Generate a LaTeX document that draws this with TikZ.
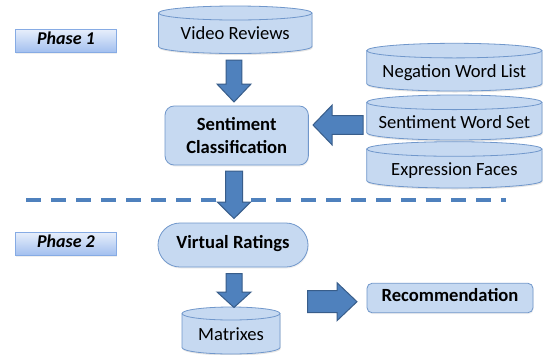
\documentclass[tikz,border=0pt]{standalone}
\usepackage{fontspec}
\setmainfont{Carlito}
\usetikzlibrary{calc,shadows}
\definecolor{boxfill}{HTML}{C6D9F1}
\definecolor{boxline}{HTML}{7097CB}
\definecolor{arrfill}{HTML}{4F81BD}
\definecolor{arrline}{HTML}{385D8A}
\definecolor{phtop}{HTML}{E6EEFB}
\definecolor{phbot}{HTML}{A2BFEF}
\definecolor{phline}{HTML}{86ABE4}
\tikzset{
  txt/.style={font=\fontsize{18.6}{22.3}\selectfont, text=black, inner sep=0pt, text height=0.64em, text depth=0pt},
  cylfill/.style={fill=boxfill},
  cylline/.style={draw=boxline, line width=0.8pt},
  roundbox/.style={txt, draw=boxline, line width=0.8pt, fill=boxfill, font=\fontsize{18.6}{22.3}\selectfont\bfseries,
     drop shadow={opacity=0.12, shadow xshift=0.6pt, shadow yshift=-1.5pt}},
  phasebox/.style={txt, font=\fontsize{18}{20}\selectfont\bfseries\itshape, draw=phline, line width=0.8pt,
     top color=phtop, bottom color=phbot, minimum width=101pt, minimum height=23pt,
     drop shadow={opacity=0.12, shadow xshift=0.6pt, shadow yshift=-1.2pt}},
  blockarrow/.style={fill=arrfill, draw=arrline, line width=1pt, line join=miter},
  sepline/.style={draw=arrfill, line width=4pt, dash pattern=on 15pt off 10pt}
}
% cylinder: name, x left, x right, y top, y bottom (px, downwards), y radius, text
\newcommand\dbcyl[7]{%
  \pgfmathsetmacro\cylcx{(#2+#3)/2}%
  \pgfmathsetmacro\cylrx{(#3-#2)/2}%
  \pgfmathsetmacro\cylyt{-(#4)-(#6)}%
  \pgfmathsetmacro\cylyb{-(#5)+(#6)}%
  \pgfmathsetmacro\cylty{-((#4)+2*(#6)+(#5))/2}%
  \fill[black, opacity=0.10] ({#2+0.6},{\cylyt-1.5}) -- ({#2+0.6},{\cylyb-1.5}) arc[start angle=180,end angle=360,x radius=\cylrx,y radius=#6] -- ({#3+0.6},{\cylyt-1.5}) -- cycle;
  \path[cylfill] (#2,\cylyt) -- (#2,\cylyb) arc[start angle=180,end angle=360,x radius=\cylrx,y radius=#6] -- (#3,\cylyt) arc[start angle=0,end angle=180,x radius=\cylrx,y radius=#6] -- cycle;
  \draw[cylline] (#2,\cylyt) -- (#2,\cylyb) arc[start angle=180,end angle=360,x radius=\cylrx,y radius=#6] -- (#3,\cylyt);
  \draw[cylline] (\cylcx,\cylyt) ellipse[x radius=\cylrx,y radius=#6];
  \node[txt] (#1) at (\cylcx,\cylty) {#7};
}
% vertical block arrow: cx, y top, y head base, y tip, shaft half, head half
\newcommand\blockdown[6]{%
  \draw[blockarrow] ({#1-#5},-#2) -- ({#1+#5},-#2) -- ({#1+#5},-#3) -- ({#1+#6},-#3) -- (#1,-#4) -- ({#1-#6},-#3) -- ({#1-#5},-#3) -- cycle;}
% horizontal block arrow: x tail, x head base, x tip, y centre, shaft half, head half
\newcommand\blockh[6]{%
  \draw[blockarrow] (#1,{-#4+#5}) -- (#2,{-#4+#5}) -- (#2,{-#4+#6}) -- (#3,-#4) -- (#2,{-#4-#6}) -- (#2,{-#4-#5}) -- (#1,{-#4-#5}) -- cycle;}
\begin{document}
\begin{tikzpicture}[x=1pt,y=1pt]
\useasboundingbox (0,0) rectangle (545,-354);
\fill[white] (0,0) rectangle (545,-354);

% phase labels
\node[phasebox] (p1) at (66,-41) {Phase 1};
\node[phasebox] (p2) at (66,-244) {Phase 2};

% separator
\draw[sepline] (26,-200) -- (506,-200);

% databases
\dbcyl{vr}{158.5}{312}{6}{53.5}{7}{Video Reviews}
\dbcyl{nwl}{366.7}{542}{43.3}{91}{7.3}{Negation Word List}
\dbcyl{sws}{366.7}{542}{95}{140}{7.3}{Sentiment Word Set}
\dbcyl{ef}{366.7}{542}{141.7}{188}{7.3}{Expression Faces}
\dbcyl{mx}{182}{280}{307}{354}{6.5}{Matrixes}

% process boxes
\node[roundbox, align=center, text height=, text depth=, minimum width=143.3pt, minimum height=59pt, rounded corners=9pt] (sc) at (236.7,-135.5) {Sentiment\\Classification};
\node[roundbox, minimum width=150pt, minimum height=44pt, rounded corners=22pt] (vrt) at (233,-245) {Virtual Ratings};
\node[roundbox, minimum width=166pt, minimum height=29.4pt, rounded corners=5pt] (rec) at (450,-298) {Recommendation};

% block arrows
\blockdown{234}{60}{84}{102}{7.8}{17}
\blockdown{234}{171}{202}{218.5}{8.5}{16.7}
\blockdown{234}{273.5}{292}{307.5}{8}{17}
\blockh{363}{332}{313}{125}{9.3}{19.8}
\blockh{307.7}{337}{357}{301.7}{11}{19}
\end{tikzpicture}
\end{document}
